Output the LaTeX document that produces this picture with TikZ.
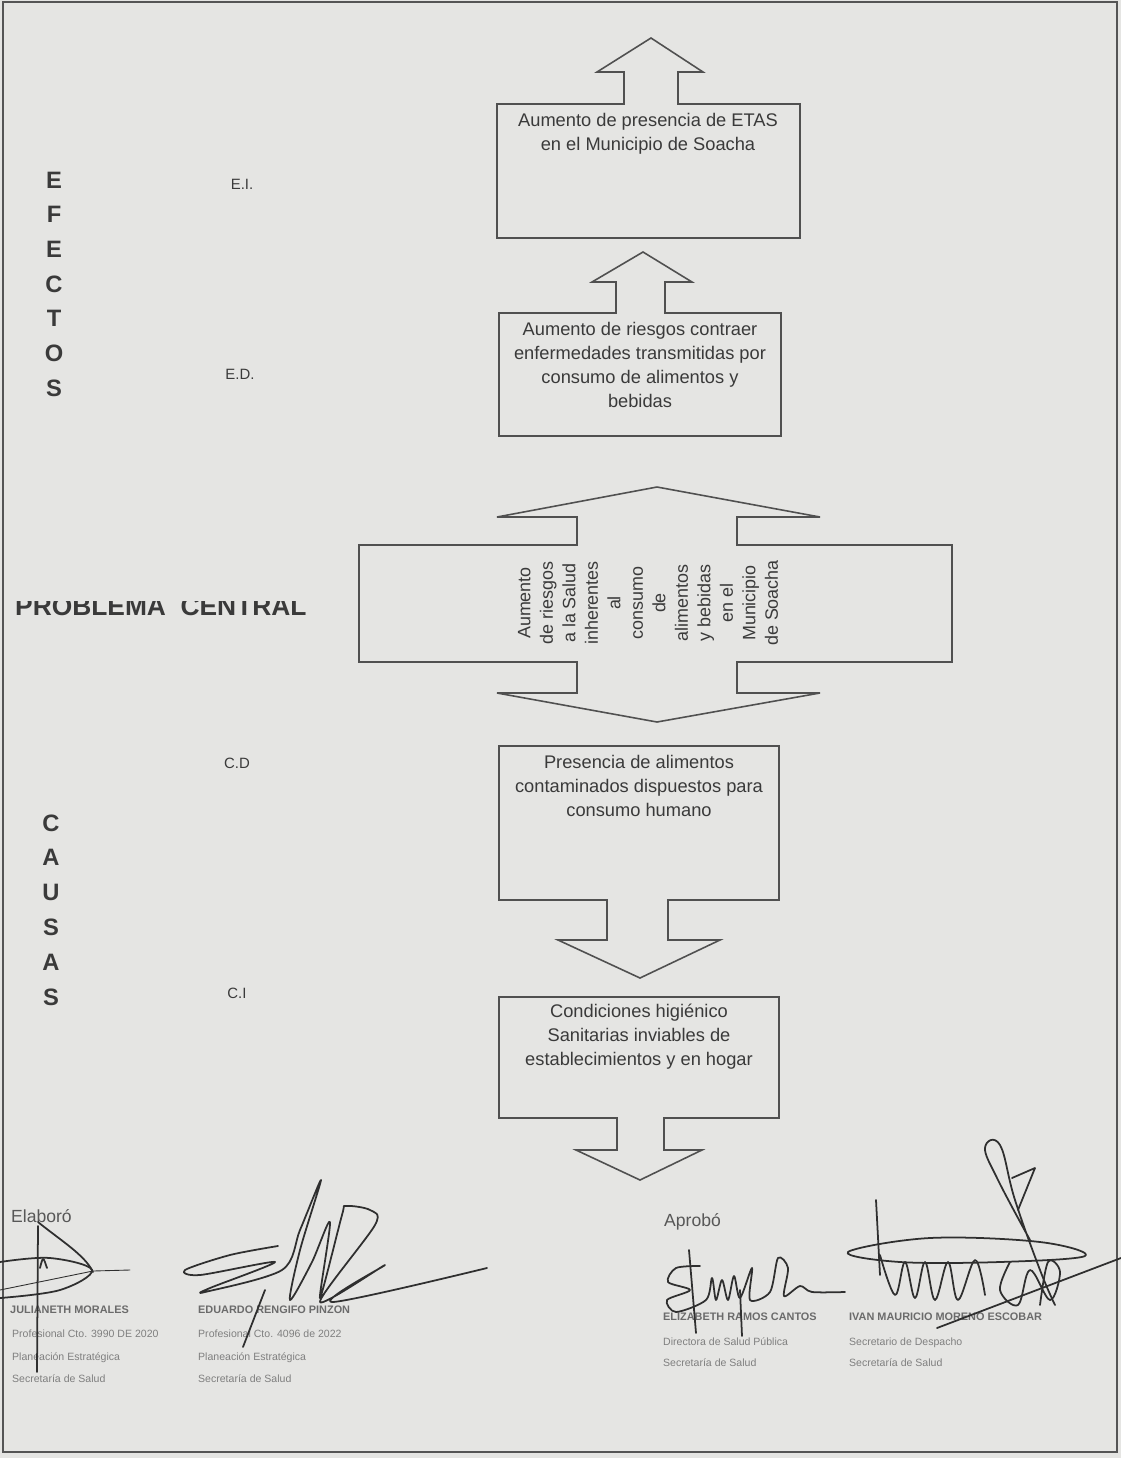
\documentclass[tikz,border=0pt]{standalone}
\usepackage{fontspec}
\setmainfont{Liberation Sans}
\usetikzlibrary{positioning}
\definecolor{paper}{HTML}{E5E5E3}
\definecolor{frameline}{HTML}{555555}
\definecolor{boxline}{HTML}{505050}
\definecolor{bodytext}{HTML}{3A3A3A}
\definecolor{penink}{HTML}{2F2F2F}

\begin{document}
\begin{tikzpicture}[x=0.02cm, y=-0.02cm,
    shapeline/.style={draw=boxline, line width=0.9pt, line join=miter},
    boxtext/.style={font=\fontsize{10.4}{13.6}\selectfont, text=bodytext, align=center},
    sideletter/.style={font=\fontsize{13.5}{14}\selectfont\bfseries, text=bodytext},
    rowtag/.style={font=\fontsize{8.5}{10}\selectfont, text=bodytext},
    signame/.style={font=\fontsize{6.2}{7}\selectfont\bfseries, text=bodytext!75, anchor=base west},
    sigrole/.style={font=\fontsize{6}{7}\selectfont, text=bodytext!65, anchor=base west},
    penstroke/.style={draw=penink, line width=1pt, line cap=round, line join=round}]

    % Scanned page and frame
    \fill[paper] (0,0) rectangle (1121,1458);
    \useasboundingbox (0,0) rectangle (1121,1458);
    \draw[frameline, line width=0.9pt] (3,2) rectangle (1117,1452);

    % Indirect effect box with arrow up
    \draw[shapeline] (497,104) -- (624,104) -- (624,72) -- (597,72) -- (651,38) -- (703,72)
        -- (678,72) -- (678,104) -- (800,104) -- (800,238) -- (497,238) -- cycle;
    \node[boxtext] (ei) at (648,134) {Aumento de presencia de ETAS\\en el Municipio de Soacha};

    % Direct effect box with arrow up
    \draw[shapeline] (499,313) -- (616,313) -- (616,282) -- (592,282) -- (643,252) -- (692,282)
        -- (665,282) -- (665,313) -- (781,313) -- (781,436) -- (499,436) -- cycle;
    \node[boxtext] (ed) at (640,365) {Aumento de riesgos contraer\\enfermedades transmitidas por\\consumo de alimentos y\\bebidas};

    % Central problem: double arrow
    \draw[shapeline] (359,545) -- (577,545) -- (577,517) -- (497,517) -- (657,487) -- (820,517)
        -- (737,517) -- (737,545) -- (952,545) -- (952,662) -- (737,662) -- (737,693)
        -- (820,693) -- (657,722) -- (497,693) -- (577,693) -- (577,662) -- (359,662) -- cycle;
    \node[rotate=90, font=\fontsize{10.2}{12.8}\selectfont, text=bodytext, align=center] (pc) at (648,603)
        {Aumento\\de riesgos\\a la Salud\\inherentes\\al\\consumo\\de\\alimentos\\y bebidas\\en el\\Municipio\\de Soacha};

    % Direct cause box with arrow down
    \draw[shapeline] (499,746) -- (779,746) -- (779,900) -- (668,900) -- (668,940) -- (720,940)
        -- (640,978) -- (558,940) -- (607,940) -- (607,900) -- (499,900) -- cycle;
    \node[boxtext] (cd) at (639,786) {Presencia de alimentos\\contaminados dispuestos para\\consumo humano};

    % Indirect cause box with arrow down
    \draw[shapeline] (499,997) -- (779,997) -- (779,1118) -- (664,1118) -- (664,1150) -- (702,1150)
        -- (640,1180) -- (576,1150) -- (617,1150) -- (617,1118) -- (499,1118) -- cycle;
    \node[boxtext] (ci) at (639,1037) {Condiciones higiénico\\Sanitarias inviables de\\establecimientos y en hogar};

    % Side labels
    \foreach \ch [count=\i from 0] in {E,F,E,C,T,O,S}
        \node[sideletter] (efe\i) at (54,180+34.7*\i) {\ch};
    \foreach \ch [count=\i from 0] in {C,A,U,S,A,S}
        \node[sideletter] (cau\i) at (51,823+34.8*\i) {\ch};
    \begin{scope}
        \clip (0,601) rectangle (340,640);
        \node[font=\fontsize{15}{16}\selectfont\bfseries, text=bodytext, anchor=base west] (central) at (9,615) {PROBLEMA\ \ CENTRAL};
    \end{scope}

    % Row tags
    \node[rowtag] (tagei) at (242,184) {E.I.};
    \node[rowtag] (taged) at (240,374) {E.D.};
    \node[rowtag] (tagcd) at (237,763) {C.D};
    \node[rowtag] (tagci) at (237,993) {C.I};

    % Signature block texts
    \node[font=\fontsize{10}{12}\selectfont, text=bodytext!85, anchor=base west] (elab) at (5,1222) {Elaboró};
    \node[font=\fontsize{10}{12}\selectfont, text=bodytext!85, anchor=base west] (aprob) at (658,1226) {Aprobó};

    \node[signame] (nma) at (4,1313) {JULIANETH MORALES};
    \node[sigrole] (rma) at (6,1337) {Profesional Cto. 3990 DE 2020};
    \node[sigrole] (pma) at (6,1360) {Planeación Estratégica};
    \node[sigrole] (sma) at (6,1382) {Secretaría de Salud};

    \node[signame] (nmb) at (192,1313) {EDUARDO RENGIFO PINZON};
    \node[sigrole] (rmb) at (192,1337) {Profesional Cto. 4096 de 2022};
    \node[sigrole] (pmb) at (192,1360) {Planeación Estratégica};
    \node[sigrole] (smb) at (192,1382) {Secretaría de Salud};

    \node[signame] (nmc) at (657,1320) {ELIZABETH RAMOS CANTOS};
    \node[sigrole] (rmc) at (657,1345) {Directora de Salud Pública};
    \node[sigrole] (smc) at (657,1366) {Secretaría de Salud};

    \node[signame] (nmd) at (843,1320) {IVAN MAURICIO MORENO ESCOBAR};
    \node[sigrole] (rmd) at (843,1345) {Secretario de Despacho};
    \node[sigrole] (smd) at (843,1366) {Secretaría de Salud};

    % Handwritten signatures
    \draw[penstroke] (38,1226) -- (37,1372);
    \draw[penstroke] (38,1222) .. controls (60,1240) and (85,1255) .. (93,1272);
    \draw[penstroke] plot[smooth, tension=0.6] coordinates {(0,1262) (50,1258) (92,1270) (60,1290) (0,1298)};
    \draw[penstroke, line width=0.5pt] (0,1290) -- (93,1271) -- (130,1270);
    \draw[penstroke] (40,1268) .. controls (43,1256) .. (47,1268);

    \draw[penstroke] plot[smooth, tension=0.5] coordinates {(278,1246) (230,1255) (185,1270) (200,1275)
        (275,1262) (210,1288) (205,1292) (282,1270) (300,1230) (321,1180) (300,1250) (290,1300)
        (312,1262) (330,1222) (320,1298) (342,1215) (346,1206) (370,1210) (375,1225) (320,1302)
        (385,1265) (332,1302) (487,1268)};
    \draw[penstroke] (265,1290) -- (243,1347);

    \draw[penstroke] plot[smooth, tension=0.5] coordinates {(700,1266) (676,1268) (668,1282) (690,1290)
        (667,1300) (676,1312) (706,1300) (712,1278) (716,1300) (722,1280) (728,1300) (734,1276)
        (740,1298) (752,1268) (750,1300) (770,1292) (778,1258) (788,1268) (784,1296) (800,1286)
        (812,1292) (845,1292)};
    \draw[penstroke] (689,1250) -- (696,1333);
    \draw[penstroke] (740,1290) -- (742,1336);

    \draw[penstroke] plot[smooth cycle, tension=0.6] coordinates {(848,1252) (930,1238) (1040,1242)
        (1085,1256) (1000,1262) (900,1262)};
    \draw[penstroke] (876,1200) -- (880,1275);
    \draw[penstroke] plot[smooth, tension=0.6] coordinates {(880,1255) (895,1295) (905,1262) (915,1298)
        (925,1262) (935,1300) (948,1262) (958,1300) (975,1260) (985,1295)};
    \draw[penstroke] plot[smooth, tension=0.6] coordinates {(1010,1262) (1000,1290) (1018,1305) (1030,1270)
        (1050,1300) (1060,1272) (1048,1262) (1040,1305)};
    \draw[penstroke] plot[smooth, tension=0.7] coordinates {(1030,1240) (998,1180) (985,1148) (1000,1145)
        (1015,1200) (1040,1270) (1055,1305)};
    \draw[penstroke] (1012,1178) -- (1035,1168) -- (1018,1210);
    \draw[penstroke] (937,1328) -- (1121,1258);
\end{tikzpicture}
\end{document}
